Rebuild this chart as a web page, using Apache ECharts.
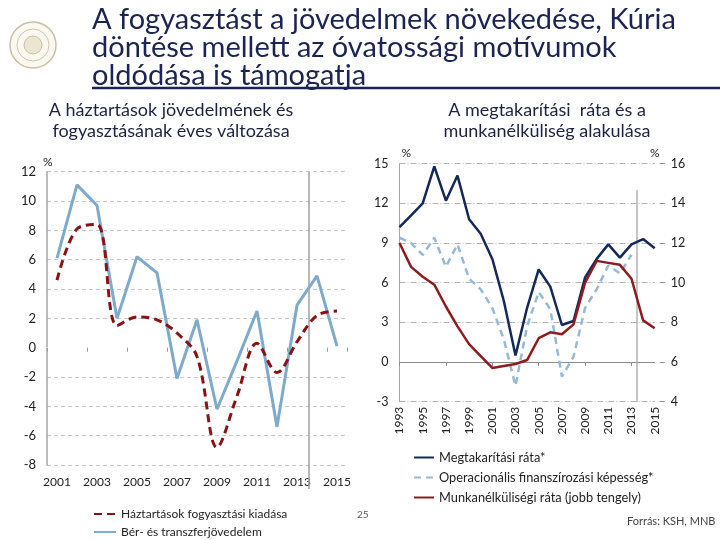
<!DOCTYPE html>
<html>
<head>
<meta charset="utf-8">
<script src="https://cdn.jsdelivr.net/npm/echarts@6/dist/echarts.min.js"></script>
<style>
html,body{margin:0;padding:0;background:#fff;}
#chart{width:720px;height:540px;}
</style>
</head>
<body>
<div id="chart"></div>
<script>
// ---- data ----
var leftYears = ['2001','2002','2003','2004','2005','2006','2007','2008','2009','2010','2011','2012','2013','2014','2015'];
var consumption = [4.6, 8.1, 8.4, 1.5, 2.1, 1.9, 1.0, -0.6, -6.8, -3.3, 0.3, -1.7, 0.4, 2.2, 2.5];
var income = [6.1, 11.1, 9.7, 2.0, 6.2, 5.1, -2.1, 1.9, -4.2, -0.9, 2.5, -5.4, 2.9, 4.9, 0.1];

var rightYears = ['1993','1994','1995','1996','1997','1998','1999','2000','2001','2002','2003','2004','2005','2006','2007','2008','2009','2010','2011','2012','2013','2014','2015'];
var savingRate = [10.2, 11.1, 12.0, 14.8, 12.2, 14.1, 10.8, 9.7, 7.8, 4.6, 0.5, 4.1, 7.0, 5.7, 2.8, 3.1, 6.4, 7.8, 8.9, 7.9, 8.9, 9.3, 8.6];
var opLending = [9.4, 9.0, 8.1, 9.4, 7.2, 8.9, 6.3, 5.5, 4.1, 1.7, -1.8, 2.7, 5.3, 4.0, -1.1, 0.4, 4.1, 5.5, 7.3, 6.7, 8.1, null, null];
var unemployment = [12.0, 10.8, 10.3, 9.9, 8.8, 7.8, 6.9, 6.3, 5.7, 5.8, 5.9, 6.1, 7.2, 7.5, 7.4, 7.9, 10.0, 11.1, 11.0, 10.9, 10.2, 8.1, 7.7];

var titleLines = ['A fogyasztást a jövedelmek növekedése, Kúria', 'döntése mellett az óvatossági motívumok', 'oldódása is támogatja'];
var leftSubtitle = ['A háztartások jövedelmének és', 'fogyasztásának éves változása'];
var rightSubtitle = ['A megtakarítási  ráta és a', 'munkanélküliség alakulása'];

var seriesNames = {
  cons: 'Háztartások fogyasztási kiadása',
  inc: 'Bér- és transzferjövedelem',
  sav: 'Megtakarítási ráta*',
  op: 'Operacionális finanszírozási képesség*',
  unemp: 'Munkanélküliségi ráta (jobb tengely)'
};

var navy = '#1b2452';
var lblFont = 'Lato';
var headFont = 'Lato';
var chart = echarts.init(document.getElementById('chart'), null, {renderer: 'canvas'});

function mkLegend(name, left, top, w, fs) {
  return {
    data: [name], left: left, top: top, itemWidth: w, itemHeight: 10,
    orient: 'vertical', itemStyle: {opacity: 0},
    textStyle: {fontFamily: lblFont, fontSize: fs, color: '#222'}
  };
}

var graphics = [
  // underline of title
  {type: 'line', shape: {x1: 92, y1: 88, x2: 720, y2: 88}, style: {stroke: navy, lineWidth: 2.5}, z: 10},
  // logo
  {type: 'circle', shape: {cx: 33, cy: 45, r: 23}, style: {fill: '#faf8f1', stroke: '#c9c0a2', lineWidth: 1.5}},
  {type: 'circle', shape: {cx: 33, cy: 45, r: 16}, style: {fill: 'none', stroke: '#cfc6aa', lineWidth: 1}},
  {type: 'circle', shape: {cx: 33, cy: 45, r: 9}, style: {fill: '#ece5d0', stroke: '#c9c0a2', lineWidth: 1}},
  // vertical divider lines
  {type: 'line', shape: {x1: 309, y1: 172, x2: 309, y2: 489}, style: {stroke: '#a0a0a0', lineWidth: 1.5}, z: 1},
  {type: 'line', shape: {x1: 637, y1: 190, x2: 637, y2: 402}, style: {stroke: '#a0a0a0', lineWidth: 1.2}, z: 1},
  // page number and source
  {type: 'text', x: 357, y: 515, style: {text: '25', font: '10px Lato', fill: '#555', textVerticalAlign: 'middle'}},
  {type: 'text', x: 627, y: 521, style: {text: 'Forrás: KSH, MNB', font: '11px Lato', fill: '#444', textVerticalAlign: 'middle'}}
];
var titleY = [20, 48, 76];
titleLines.forEach(function (t, i) {
  graphics.push({type: 'text', x: 92, y: titleY[i], style: {text: t, font: '29px ' + headFont, fill: navy, textVerticalAlign: 'middle'}});
});
[leftSubtitle, rightSubtitle].forEach(function (lines, k) {
  lines.forEach(function (t, i) {
    graphics.push({type: 'text', x: k === 0 ? 171 : 547, y: 110 + i * 21,
      style: {text: t, font: '18px ' + headFont, fill: '#1c2340', textAlign: 'center', textVerticalAlign: 'middle'}});
  });
});

var option = {
  backgroundColor: '#ffffff',
  animation: false,
  legend: [
    mkLegend(seriesNames.cons, 88, 503, 22, 12),
    mkLegend(seriesNames.inc, 88, 521, 22, 12),
    mkLegend(seriesNames.sav, 408, 446, 20, 12.8),
    mkLegend(seriesNames.op, 408, 466, 20, 12.8),
    mkLegend(seriesNames.unemp, 408, 486, 20, 12.8)
  ],
  grid: [
    {left: 47, right: 373, top: 171.7, bottom: 75},
    {left: 399.5, right: 65.3, top: 163.7, bottom: 138.3}
  ],
  xAxis: [
    { // left chart labels
      type: 'category', gridIndex: 0, data: leftYears, position: 'bottom',
      boundaryGap: true,
      axisLine: {show: false, onZero: false},
      axisTick: {show: false},
      axisLabel: {interval: 1, fontFamily: lblFont, fontSize: 12, color: '#222', margin: 11}
    },
    { // left chart zero line ticks
      type: 'category', gridIndex: 0, data: leftYears, position: 'top',
      boundaryGap: true,
      axisLine: {show: true, onZero: true, lineStyle: {color: '#ffffff', width: 1}},
      axisTick: {show: true, inside: true, length: 4, lineStyle: {color: '#9a9a9a'}},
      axisLabel: {show: false}
    },
    { // right chart labels
      type: 'category', gridIndex: 1, data: rightYears, position: 'bottom',
      boundaryGap: false,
      axisLine: {show: false, onZero: false},
      axisTick: {show: false},
      axisLabel: {interval: 1, rotate: 90, fontFamily: lblFont, fontSize: 12, color: '#222', margin: 5}
    },
    { // right chart zero line
      type: 'category', gridIndex: 1, data: rightYears, position: 'top',
      boundaryGap: false,
      axisLine: {show: true, onZero: true, lineStyle: {color: '#8c8c8c', width: 1}},
      axisTick: {show: true, inside: true, interval: 3, length: 4, lineStyle: {color: '#8c8c8c'}},
      axisLabel: {show: false}
    }
  ],
  yAxis: [
    {
      type: 'value', gridIndex: 0, min: -8, max: 12, interval: 2,
      axisLine: {show: true, lineStyle: {color: '#a6a6a6', width: 1.5}},
      axisTick: {show: false},
      axisLabel: {fontFamily: lblFont, fontSize: 13, color: '#222', margin: 11},
      splitLine: {show: true, lineStyle: {color: '#c9c9c9', type: [4, 3]}},
      name: '%', nameGap: 4, nameTextStyle: {fontFamily: lblFont, fontSize: 12, color: '#222', align: 'left', padding: [0, 0, 0, -4]}
    },
    {
      type: 'value', gridIndex: 1, min: -3, max: 15, interval: 3,
      axisLine: {show: true, lineStyle: {color: '#a6a6a6', width: 1}},
      axisTick: {show: false},
      axisLabel: {fontFamily: lblFont, fontSize: 12.5, color: '#222', margin: 11},
      splitLine: {show: true, lineStyle: {color: '#b4b4b4', type: [6, 2, 1, 2]}},
      name: '%', nameGap: 5, nameTextStyle: {fontFamily: lblFont, fontSize: 12, color: '#222', align: 'left', padding: [0, 0, 0, 2]}
    },
    {
      type: 'value', gridIndex: 1, min: 4, max: 16, interval: 2, position: 'right', offset: 5,
      axisLine: {show: false},
      axisTick: {show: true, length: 5, lineStyle: {color: '#8c8c8c'}},
      axisLabel: {fontFamily: lblFont, fontSize: 12.5, color: '#222', margin: 11},
      splitLine: {show: false},
      name: '%', nameGap: 5, nameTextStyle: {fontFamily: lblFont, fontSize: 12, color: '#222', align: 'right', padding: [0, 0, 0, 0]}
    }
  ],
  series: [
    {
      name: seriesNames.cons, type: 'line', xAxisIndex: 0, yAxisIndex: 0, data: consumption,
      symbol: 'none', smooth: 0.35, z: 3,
      lineStyle: {color: '#8b1214', width: 3, type: [8, 5]}, itemStyle: {color: '#8b1214'}
    },
    {
      name: seriesNames.inc, type: 'line', xAxisIndex: 0, yAxisIndex: 0, data: income,
      symbol: 'none', z: 2,
      lineStyle: {color: '#7eaacb', width: 3}, itemStyle: {color: '#7eaacb'}
    },
    {
      name: seriesNames.sav, type: 'line', xAxisIndex: 2, yAxisIndex: 1, data: savingRate,
      symbol: 'none', z: 4,
      lineStyle: {color: '#14285a', width: 2.5}, itemStyle: {color: '#14285a'}
    },
    {
      name: seriesNames.op, type: 'line', xAxisIndex: 2, yAxisIndex: 1, data: opLending,
      symbol: 'none', z: 3,
      lineStyle: {color: '#96b9d4', width: 2.5, type: [7, 5]}, itemStyle: {color: '#96b9d4'}
    },
    {
      name: seriesNames.unemp, type: 'line', xAxisIndex: 2, yAxisIndex: 2, data: unemployment,
      symbol: 'none', z: 5,
      lineStyle: {color: '#8e1b1e', width: 2.5}, itemStyle: {color: '#8e1b1e'}
    }
  ],
  graphic: graphics
};
chart.setOption(option);
</script>
</body>
</html>
